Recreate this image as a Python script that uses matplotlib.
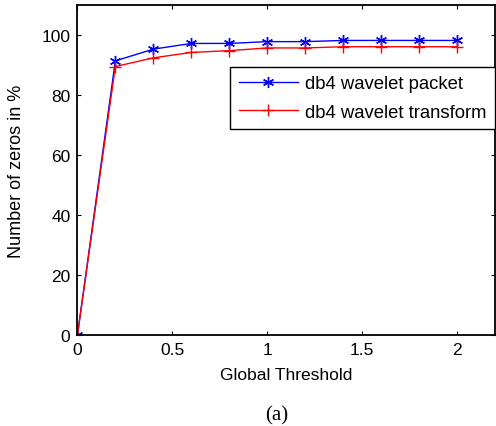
import matplotlib
matplotlib.use("Agg")
from matplotlib import pyplot as plt

plt.rcParams['font.family'] = ['Liberation Sans', 'DejaVu Sans']

thresholds = [0, 0.2, 0.4, 0.6, 0.8, 1.0, 1.2, 1.4, 1.6, 1.8, 2.0]
packet = [0, 91.4, 95.3, 97.2, 97.2, 97.8, 97.8, 98.2, 98.2, 98.2, 98.2]
transform = [0, 89.5, 92.4, 94.2, 94.8, 95.7, 95.7, 96.1, 96.1, 96.1, 96.1]

fig = plt.figure(figsize=(4.96, 4.27), dpi=100)
ax = fig.add_axes([0.156, 0.212, 0.842, 0.774])

# asterisk marker like matlab '*'
ax.plot(thresholds, packet, color='blue', marker=(6, 2, 0), markersize=8, lw=1,
        label='db4 wavelet packet')
ax.plot(thresholds, transform, color='red', marker='+', markersize=9, lw=1,
        label='db4 wavelet transform')

ax.set_xlim(0, 2.2)
ax.set_ylim(0, 110)
ax.set_xticks([0, 0.5, 1, 1.5, 2])
ax.set_xticklabels(['0', '0.5', '1', '1.5', '2'])
ax.set_yticks([0, 20, 40, 60, 80, 100])
ax.tick_params(direction='in', top=True, right=True, labelsize=12.5, length=3, pad=5)
for s in ax.spines.values():
    s.set_linewidth(1.3)

ax.set_xlabel('Global Threshold', fontsize=12.5, labelpad=7)
ax.set_ylabel('Number of zeros in %', fontsize=13, labelpad=12)

leg = ax.legend(loc='upper right', bbox_to_anchor=(1.0, 0.812), borderaxespad=0,
                fontsize=13.3, fancybox=False, edgecolor='black', framealpha=1,
                handlelength=3.2, handletextpad=0.4, borderpad=0.45,
                labelspacing=0.6)
leg.get_frame().set_linewidth(1)

fig.text(0.558, 0.016, '(a)', ha='center', va='baseline', fontsize=15,
         family='Liberation Serif')

fig.savefig('out.png')
